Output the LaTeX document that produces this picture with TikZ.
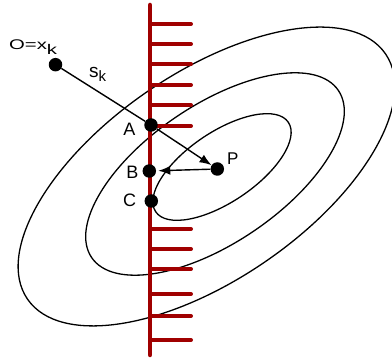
\documentclass[tikz,border=0pt]{standalone}
\usepackage{fontspec}
\setmainfont{Liberation Sans}
\usetikzlibrary{arrows.meta}
\definecolor{wallred}{RGB}{160,0,0}
\begin{document}
\begin{tikzpicture}[x=1pt,y=1pt,
  contour/.style={line width=1.3pt},
  wall/.style={wallred, line width=4.5pt, line cap=round},
  hatch/.style={wallred, line width=4pt, line cap=round},
  dot/.style={circle, fill=black, inner sep=0pt, minimum size=13.5pt},
  lbl/.style={inner sep=0pt, font=\fontsize{18}{18}\selectfont},
  arr/.style={line width=1.4pt, -{Latex[length=12pt,width=9pt]}},
  seg/.style={line width=1.4pt}]
\useasboundingbox (0,0) rectangle (392,-358);
\clip (0,0) rectangle (392,-358);
% contours
\draw[contour, rotate around={34.4:(206.5,-176.5)}] (206.5,-176.5) ellipse [x radius=217pt, y radius=103.5pt];
\draw[contour, rotate around={34.1:(215,-174)}] (215,-174) ellipse [x radius=149pt, y radius=69pt];
\draw[contour, rotate around={34:(222,-167)}] (222,-167) ellipse [x radius=80pt, y radius=35pt];
% wall
\coordinate (wtop) at (150,-5);
\coordinate (wbot) at (150,-355);
\draw[wall] (wtop) -- (wbot);
\foreach \y in {24,44,64,85,105,126,229,249,269,294,316,340}
  \draw[hatch] (150,-\y) -- (191,-\y);
% points
\node[dot] (O) at (55.5,-64.7) {};
\node[dot] (A) at (151,-125) {};
\node[dot] (B) at (149.3,-171) {};
\node[dot] (C) at (151.3,-201) {};
\node[dot] (P) at (217.3,-169) {};
\draw[seg] (O) -- (A);
\draw[arr] (A) -- (P);
\draw[arr, shorten >=2pt] (P) -- (B);
% labels
\node[anchor=base west, inner sep=0pt, font=\fontsize{14}{14}\selectfont] (lO) at (9,-49.5) {\scalebox{1.45}[1]{O=x\raisebox{-5pt}{k}}};
\node[anchor=base west, inner sep=0pt] (ls) at (89,-78) {{\fontsize{19}{19}\selectfont s}\raisebox{-4pt}{\fontsize{15}{15}\selectfont k}};
\node[lbl, anchor=base] (lA) at (129.5,-135.7) {A};
\node[lbl, anchor=base] (lB) at (132.3,-178.3) {B};
\node[lbl, anchor=base] (lC) at (129.7,-206.7) {C};
\node[lbl, anchor=base, font=\fontsize{17}{17}\selectfont] (lP) at (232.7,-165) {P};
\end{tikzpicture}
\end{document}
